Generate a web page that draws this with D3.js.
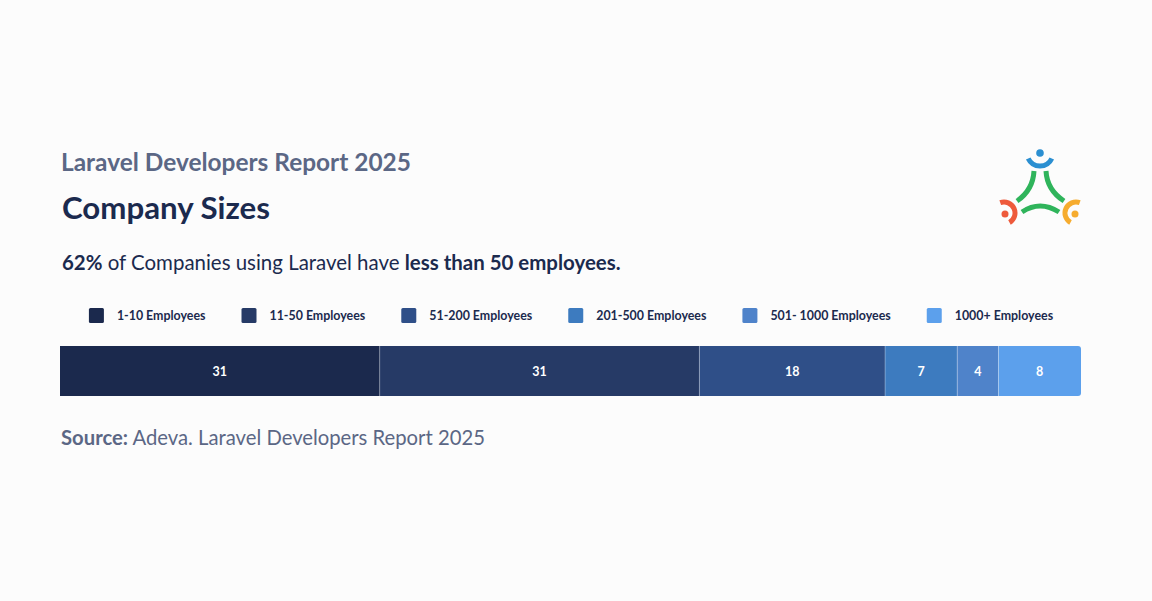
<!DOCTYPE html>
<html>
<head>
<meta charset="utf-8">
<script src="https://cdn.jsdelivr.net/npm/d3@7"></script>
<style>
  html, body { margin: 0; padding: 0; background: #fcfcfc; }
  svg { display: block; }
  text { font-family: Lato, "Open Sans", sans-serif; }
</style>
</head>
<body>
<svg id="chart" width="1152" height="601"></svg>
<script>
const categories = ["1-10 Employees", "11-50 Employees", "51-200 Employees", "201-500 Employees", "501- 1000 Employees", "1000+ Employees"];
const values = [31, 31, 18, 7, 4, 8];
const colors = ["#1b294d", "#263a66", "#2f4f88", "#3d7bbf", "#4f83ca", "#5ca0ec"];

const svg = d3.select("#chart");
svg.append("rect").attr("width", 1152).attr("height", 601).attr("fill", "#fcfcfc");

function fit(sel, target) {
  const w = sel.node().getComputedTextLength();
  const fs = parseFloat(sel.attr("font-size"));
  sel.attr("font-size", (fs * target / w).toFixed(2));
  return sel;
}

// Titles
fit(svg.append("text").attr("x", 61).attr("y", 171).attr("font-size", 22).attr("font-weight", 700)
  .attr("fill", "#5b6785").text("Laravel Developers Report 2025"), 350);
fit(svg.append("text").attr("x", 62).attr("y", 219).attr("font-size", 28).attr("font-weight", 700)
  .attr("fill", "#1b2a4e").text("Company Sizes"), 208);

const sub = svg.append("text").attr("x", 62).attr("y", 270).attr("font-size", 18).attr("fill", "#1b2a4e");
sub.append("tspan").attr("font-weight", 700).text("62%");
sub.append("tspan").text(" of Companies using Laravel have ");
sub.append("tspan").attr("font-weight", 700).text("less than 50 employees.");
fit(sub, 559);

const src = svg.append("text").attr("x", 61).attr("y", 445).attr("font-size", 18).attr("fill", "#5b6785");
src.append("tspan").attr("font-weight", 700).text("Source:");
src.append("tspan").text(" Adeva. Laravel Developers Report 2025");
fit(src, 424);

// Bar
const x = d3.scaleLinear().domain([0, d3.sum(values)]).range([60, 1081]);
const barY = 346, barH = 50;
const data = values.map((v, i) => ({ v, i, start: d3.sum(values.slice(0, i)) }));

const defs = svg.append("defs");
defs.append("clipPath").attr("id", "barclip").append("rect")
  .attr("x", x(0) - 10).attr("y", barY).attr("width", x.range()[1] - x(0) + 10).attr("height", barH).attr("rx", 3);

const g = svg.append("g").attr("clip-path", "url(#barclip)");
g.selectAll("rect.seg").data(data).join("rect").attr("class", "seg")
  .attr("x", d => x(d.start)).attr("y", barY)
  .attr("width", d => x(d.start + d.v) - x(d.start)).attr("height", barH)
  .attr("fill", d => colors[d.i]);
g.selectAll("line.sep").data(data.slice(1)).join("line").attr("class", "sep")
  .attr("x1", d => x(d.start)).attr("x2", d => x(d.start))
  .attr("y1", barY).attr("y2", barY + barH)
  .attr("stroke", "rgba(255,255,255,0.3)").attr("stroke-width", 1);
svg.selectAll("text.val").data(data).join("text").attr("class", "val")
  .attr("x", d => x(d.start + d.v / 2)).attr("y", barY + barH / 2 + 4.5)
  .attr("text-anchor", "middle").attr("font-size", 12.5).attr("font-weight", 700)
  .attr("fill", "#ffffff").text(d => d.v);

// Legend (flow layout centered on bar)
const lg = svg.append("g");
let cx = 0;
const gap = 36;
categories.forEach((c, i) => {
  const it = lg.append("g");
  it.append("rect").attr("x", 0).attr("y", -8).attr("width", 15).attr("height", 15).attr("rx", 1.5).attr("fill", colors[i]);
  const t = it.append("text").attr("x", 28).attr("y", 4).attr("font-size", 12.4).attr("font-weight", 700)
    .attr("fill", "#1b2a4e").text(c);
  const tw = t.node().getComputedTextLength();
  it.attr("transform", `translate(${cx},0)`);
  cx += 28 + tw + gap;
});
const totalW = cx - gap;
const mid = (x.range()[0] + x.range()[1]) / 2;
lg.attr("transform", `translate(${mid - totalW / 2 + 0.5},316)`);

// Logo
const logo = svg.append("g").attr("fill", "none").attr("stroke-width", 5);
const arc = (cxp, cyp, r, a0, a1) => {
  const p = d3.path();
  p.arc(cxp, cyp, r, a0 * Math.PI / 180, a1 * Math.PI / 180, false);
  return p.toString();
};
// blue
logo.append("circle").attr("cx", 1040).attr("cy", 153).attr("r", 3.8).attr("fill", "#2b8fd1").attr("stroke", "none");
logo.append("path").attr("d", arc(1040, 153, 13, 25, 155)).attr("stroke", "#2b8fd1");
// red
logo.append("circle").attr("cx", 1005).attr("cy", 214).attr("r", 3.5).attr("fill", "#ee5a3b").attr("stroke", "none");
logo.append("path").attr("d", arc(1004, 213, 11, -110, 60)).attr("stroke", "#ee5a3b");
// orange
logo.append("circle").attr("cx", 1075).attr("cy", 214).attr("r", 3.5).attr("fill", "#f6ac2f").attr("stroke", "none");
logo.append("path").attr("d", arc(1076, 213, 11, 120, 290)).attr("stroke", "#f6ac2f");
// green deltoid strokes
const green = "#2fb45b";
logo.append("path").attr("d", "M1034,171 Q1033,190 1017,201").attr("stroke", green);
logo.append("path").attr("d", "M1046,171 Q1047,190 1064,201").attr("stroke", green);
logo.append("path").attr("d", "M1022,212 Q1040,200 1059,212").attr("stroke", green);
</script>
</body>
</html>
